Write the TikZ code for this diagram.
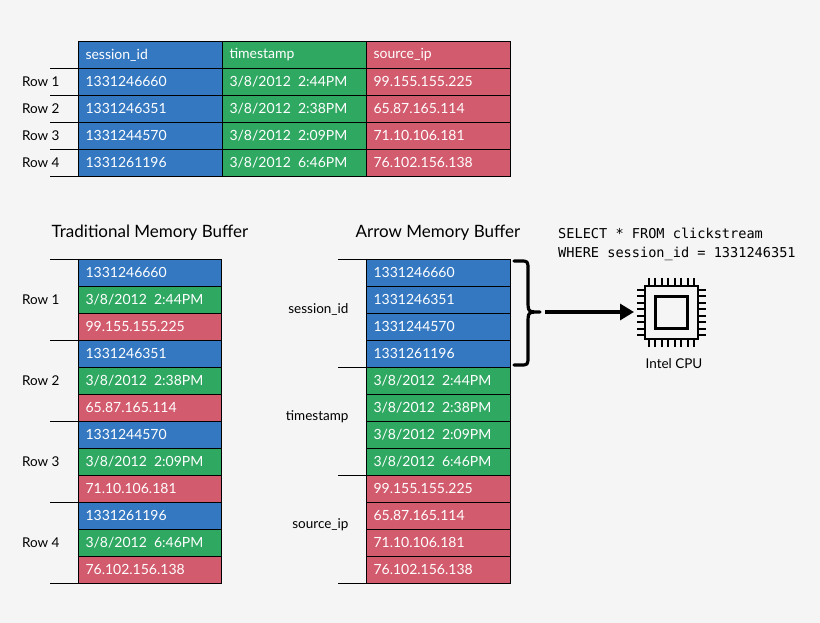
\documentclass[tikz,border=0pt]{standalone}
\usepackage{fontspec}
\setmainfont{Lato}
\newfontfamily\codefont{DejaVu Sans Mono}
\usetikzlibrary{arrows.meta}
\definecolor{cb}{HTML}{3478C2}
\definecolor{cg}{HTML}{2FA862}
\definecolor{cr}{HTML}{D35B6E}
\definecolor{bg}{HTML}{F5F5F5}
\begin{document}
\begin{tikzpicture}[x=1pt,y=-1pt,
  cell/.style={draw=black,line width=0.9pt,minimum width=144pt,minimum height=27pt,inner sep=0pt,anchor=north west},
  ctext/.style={white,font=\fontsize{14}{16}\selectfont,anchor=west},
  lab/.style={black,font=\fontsize{13.5}{16}\selectfont},
  tick/.style={line width=0.9pt}]
\fill[bg] (0,0) rectangle (820,623);
% top table
\foreach \c/\col/\x in {cb/0/78,cg/1/222,cr/2/366}{
  \foreach \r in {0,...,4}{
    \node[cell,fill=\c] (t\col\r) at (\x,{41+27*\r}) {};
  }
}
\foreach \col/\txt in {0/session\_id,1/timestamp,2/source\_ip}
  \node[ctext] at ([xshift=4pt]t\col0.west) {\txt};
\foreach \r/\a/\b/\c in {1/1331246660/3\slash8\slash2012\ \ 2:44PM/99.155.155.225,2/1331246351/3\slash8\slash2012\ \ 2:38PM/65.87.165.114,3/1331244570/3\slash8\slash2012\ \ 2:09PM/71.10.106.181,4/1331261196/3\slash8\slash2012\ \ 6:46PM/76.102.156.138}{
  \node[ctext] at ([xshift=4pt]t0\r.west) {\a};
  \node[ctext] at ([xshift=4pt]t1\r.west) {\b};
  \node[ctext] at ([xshift=4pt]t2\r.west) {\c};
  \node[lab,anchor=east] (tl\r) at (63,{41+27*\r+13.5}) {Row \r};
  \coordinate (tc\r) at (50,{41+27*\r+27});
  \draw[tick] (tc\r) -- ++(28,0);
}
\coordinate (tc0) at (50,68);
\draw[tick] (tc0) -- ++(28,0);
% titles
\node[lab,font=\fontsize{17}{20}\selectfont] (title1) at (150,233) {Traditional Memory Buffer};
\node[lab,font=\fontsize{17}{20}\selectfont] (title2) at (438,233) {Arrow Memory Buffer};
% left buffer
\foreach \i/\c/\t in {0/cb/1331246660,1/cg/3\slash8\slash2012\ \ 2:44PM,2/cr/99.155.155.225,3/cb/1331246351,4/cg/3\slash8\slash2012\ \ 2:38PM,5/cr/65.87.165.114,6/cb/1331244570,7/cg/3\slash8\slash2012\ \ 2:09PM,8/cr/71.10.106.181,9/cb/1331261196,10/cg/3\slash8\slash2012\ \ 6:46PM,11/cr/76.102.156.138}{
  \node[cell,fill=\c,minimum width=143pt] (l\i) at (78,{259+27*\i}) {};
  \node[ctext] at ([xshift=4pt]l\i.west) {\t};
}
\foreach \r in {1,...,4}{
  \node[lab,anchor=east] (ll\r) at (63,{259+81*(\r-1)+40.5}) {Row \r};
  \coordinate (lc\r) at (50,{259+81*\r});
  \draw[tick] (lc\r) -- ++(28,0);
}
\coordinate (lc0) at (50,259);
\draw[tick] (lc0) -- (l0.north west);
% right buffer
\foreach \i/\c/\t in {0/cb/1331246660,1/cb/1331246351,2/cb/1331244570,3/cb/1331261196,4/cg/3\slash8\slash2012\ \ 2:44PM,5/cg/3\slash8\slash2012\ \ 2:38PM,6/cg/3\slash8\slash2012\ \ 2:09PM,7/cg/3\slash8\slash2012\ \ 6:46PM,8/cr/99.155.155.225,9/cr/65.87.165.114,10/cr/71.10.106.181,11/cr/76.102.156.138}{
  \node[cell,fill=\c] (r\i) at (366,{259+27*\i}) {};
  \node[ctext] at ([xshift=4pt]r\i.west) {\t};
}
\foreach \g/\t in {0/session\_id,1/timestamp,2/source\_ip}{
  \node[lab,anchor=east] (rl\g) at (352,{259+108*\g+50}) {\t};
}
\foreach \g in {0,...,3}{
  \coordinate (rc\g) at (338,{259+108*\g});
  \draw[tick] (rc\g) -- ++(28,0);
}
% brace and arrow
\coordinate (bt) at (514,261);
\coordinate (bb) at (514,365);
\coordinate (btip) at (545,312);
\draw[line width=3.2pt,line cap=round,line join=round]
  (bt) -- (520,261) .. controls (528,261) .. (528,270) -- (528,300)
  .. controls (528,312) .. (540,312)
  .. controls (528,312) .. (528,324) -- (528,356)
  .. controls (528,365) .. (520,365) -- (bb);
\coordinate (cpuin) at (634,312);
\draw[line width=3.2pt,-{Triangle[length=14pt,width=16pt]}] (btip) -- (cpuin);
% CPU
\node[draw,line width=2.7pt,minimum size=53pt,inner sep=0pt] (cpu) at (671.5,312.5) {};
\node[draw,line width=2.7pt,minimum size=32pt,inner sep=0pt] (core) at (671.5,312.5) {};
\foreach \k in {0,...,7}{
  \pgfmathsetmacro\p{-22.75+6.5*\k}
  \draw[line width=2pt] ([xshift=\p pt]cpu.north) -- ++(0,-7);
  \draw[line width=2pt] ([xshift=\p pt]cpu.south) -- ++(0,7);
  \draw[line width=2pt] ([yshift=\p pt]cpu.west) -- ++(-7,0);
  \draw[line width=2pt] ([yshift=\p pt]cpu.east) -- ++(7,0);
}
\node[lab] (cpulab) at (674,364) {Intel CPU};
\node[font=\codefont\fontsize{13.6}{18.5}\selectfont,align=left,anchor=north west,inner sep=0pt] (sql) at (558,228) {SELECT * FROM clickstream\\WHERE session\_id = 1331246351};
\end{tikzpicture}
\end{document}
